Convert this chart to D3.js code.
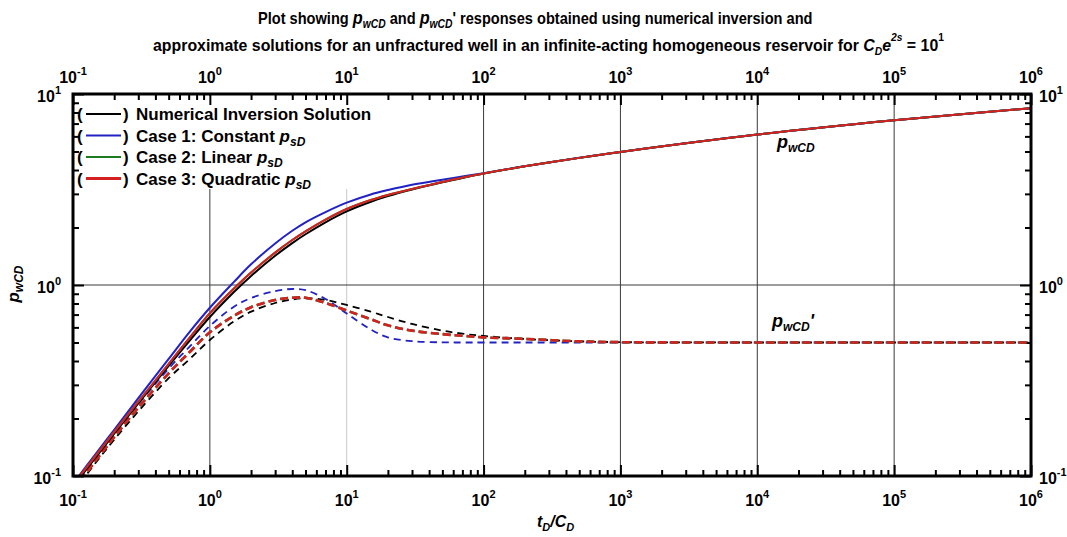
<!DOCTYPE html>
<html><head><meta charset="utf-8">
<script src="https://cdn.jsdelivr.net/npm/d3@7"></script>
<style>body{margin:0;background:#fff}svg{display:block}</style>
</head><body><svg id="c" width="1067" height="537"></svg>
<script>
// ---- data ----
const tD = [0.1,0.15,0.2,0.3,0.5,0.7,1,1.5,2,3,4,5,7,10,15,20,30,50,70,100,200,500,1000,1e4,1e5,1e6];
const numSolid  = [0.088,0.128,0.1665,0.240,0.377,0.504,0.68,0.919,1.116,1.423,1.658,1.844,2.13,2.43,2.73,2.92,3.16,3.45,3.635,3.83,4.18,4.63,4.97,6.13,7.28,8.43];
const c1Solid   = [0.091,0.1335,0.1745,0.256,0.41,0.56,0.76,1.038,1.283,1.65,1.923,2.13,2.41,2.70,2.98,3.14,3.35,3.56,3.70,3.85,4.19,4.635,4.975,6.13,7.28,8.43];
const c2Solid   = [0.0898,0.1306,0.170,0.245,0.386,0.522,0.712,0.958,1.162,1.478,1.72,1.91,2.20,2.50,2.785,2.96,3.18,3.465,3.645,3.835,4.18,4.63,4.97,6.13,7.28,8.43];
const c3Solid   = [0.0898,0.1306,0.170,0.245,0.386,0.522,0.712,0.958,1.162,1.478,1.72,1.91,2.20,2.50,2.785,2.96,3.18,3.465,3.645,3.835,4.18,4.63,4.97,6.13,7.28,8.43];
const numDeriv  = [0.082,0.12,0.155,0.218,0.325,0.405,0.515,0.645,0.725,0.805,0.84,0.852,0.835,0.786,0.725,0.68,0.625,0.577,0.556,0.541,0.522,0.507,0.502,0.5,0.5,0.5];
const c1Deriv   = [0.086,0.127,0.166,0.238,0.365,0.47,0.61,0.77,0.855,0.93,0.953,0.94,0.845,0.71,0.585,0.532,0.508,0.501,0.5,0.5,0.5,0.5,0.5,0.5,0.5,0.5];
const c2Deriv   = [0.084,0.123,0.16,0.228,0.345,0.44,0.565,0.69,0.765,0.835,0.858,0.857,0.805,0.735,0.662,0.615,0.577,0.553,0.542,0.532,0.522,0.507,0.502,0.5,0.5,0.5];
const c3Deriv   = [0.084,0.123,0.16,0.228,0.345,0.44,0.565,0.69,0.765,0.835,0.858,0.857,0.805,0.735,0.662,0.615,0.577,0.553,0.542,0.532,0.522,0.507,0.502,0.5,0.5,0.5];
const xMajor = [1e-1,1e0,1e1,1e2,1e3,1e4,1e5,1e6];
const xExp   = ["-1","0","1","2","3","4","5","6"];
const yMajor = [1e-1,1e0,1e1];
const yExp   = ["-1","0","1"];
const legendLabels = ["Numerical Inversion Solution","Case 1: Constant ","Case 2: Linear ","Case 3: Quadratic "];

// ---- setup ----
const svg = d3.select("#c");
const FONT = "'Liberation Sans', Arial, Helvetica, sans-serif";
const L=73, R=1031, T=94, B=476;
const x = d3.scaleLog().domain([0.1,1e6]).range([L,R]);
const y = d3.scaleLog().domain([0.1,10]).range([B,T]);

const COL = {black:"#000000", blue:"#2222c4", green:"#1e7a1e", red:"#d42222"};

function rich(sel, parts){
  let off = 0;
  parts.forEach(p=>{
    const ts = sel.append("tspan").text(p.t);
    const target = p.dy || 0;
    if (target !== off) ts.attr("dy", target - off);
    off = target;
    if (p.it) ts.attr("font-style","italic");
    if (p.size) ts.attr("font-size", p.size);
  });
}

const minors = [];
for (let e=-1;e<6;e++) for (let m=2;m<=9;m++) minors.push(m*Math.pow(10,e));
const yMinors = [];
for (let e=-1;e<1;e++) for (let m=2;m<=9;m++) yMinors.push(m*Math.pow(10,e));

// gridlines
const grid = svg.append("g");
grid.selectAll("line.v").data([1e0,1e1,1e2,1e3,1e4,1e5]).join("line")
  .attr("x1",d=>x(d)).attr("x2",d=>x(d)).attr("y1",T).attr("y2",B)
  .attr("stroke",d=>d===10?"#c8c8c8":"#3a3a3a").attr("stroke-width",1);
grid.append("line").attr("x1",L).attr("x2",R).attr("y1",y(1)).attr("y2",y(1))
  .attr("stroke","#3a3a3a").attr("stroke-width",1);

// legend background
svg.append("rect").attr("x",L+2).attr("y",T+2).attr("width",305).attr("height",93).attr("fill","#fff");

// axes (inward ticks)
function axisG(axis, tx, ty){
  const g = svg.append("g").attr("transform",`translate(${tx},${ty})`).call(axis);
  g.select(".domain").remove();
  g.selectAll(".tick line").attr("stroke","#000").attr("stroke-width",2);
  g.selectAll(".tick text").remove();
  return g;
}
axisG(d3.axisBottom(x).tickValues(xMajor).tickSize(-11).tickFormat(""),0,B);
axisG(d3.axisBottom(x).tickValues(minors).tickSize(-6).tickFormat(""),0,B);
axisG(d3.axisTop(x).tickValues(xMajor).tickSize(-11).tickFormat(""),0,T);
axisG(d3.axisTop(x).tickValues(minors).tickSize(-6).tickFormat(""),0,T);
axisG(d3.axisLeft(y).tickValues(yMajor).tickSize(-11).tickFormat(""),L,0);
axisG(d3.axisLeft(y).tickValues(yMinors).tickSize(-6).tickFormat(""),L,0);
axisG(d3.axisRight(y).tickValues(yMajor).tickSize(-11).tickFormat(""),R,0);
axisG(d3.axisRight(y).tickValues(yMinors).tickSize(-6).tickFormat(""),R,0);

// curves
svg.append("clipPath").attr("id","pa").append("rect")
  .attr("x",L).attr("y",T).attr("width",R-L).attr("height",B-T);
const line = d3.line().x((d,i)=>x(tD[i])).y(d=>y(d)).curve(d3.curveCatmullRom.alpha(0.5));
const cg = svg.append("g").attr("clip-path","url(#pa)");
const series = [
  {v:numDeriv, c:COL.black, w:1.8, dash:"7,5"},
  {v:c1Deriv,  c:COL.blue,  w:1.8, dash:"7,5"},
  {v:c2Deriv,  c:COL.green, w:2.6, dash:"8,4"},
  {v:c3Deriv,  c:COL.red,   w:2.6, dash:"8,4"},
  {v:numSolid, c:COL.black, w:2},
  {v:c1Solid,  c:COL.blue,  w:2},
  {v:c2Solid,  c:COL.green, w:2},
  {v:c3Solid,  c:COL.red,   w:2},
];
series.forEach(s=>{
  cg.append("path").attr("d",line(s.v)).attr("fill","none")
    .attr("stroke",s.c).attr("stroke-width",s.w)
    .attr("stroke-dasharray",s.dash||null);
});

// frame
svg.append("rect").attr("x",L).attr("y",T).attr("width",R-L).attr("height",B-T)
  .attr("fill","none").attr("stroke","#000").attr("stroke-width",3);

// tick labels
const lab = svg.append("g").attr("font-family",FONT).attr("font-weight","bold").attr("font-size",16).attr("fill","#000");
xMajor.forEach((v,i)=>{
  [83,506].forEach(yy=>{
    const t = lab.append("text").attr("x",x(v)).attr("y",yy).attr("text-anchor","middle");
    rich(t,[{t:"10"},{t:xExp[i],dy:-8,size:11}]);
  });
});
yMajor.forEach((v,i)=>{
  const t1 = lab.append("text").attr("x",61).attr("y",y(v)+8).attr("text-anchor","end");
  rich(t1,[{t:"10"},{t:yExp[i],dy:-8,size:11}]);
  const t2 = lab.append("text").attr("x",1039).attr("y",y(v)+8).attr("text-anchor","start");
  rich(t2,[{t:"10"},{t:yExp[i],dy:-8,size:11}]);
});

// legend
const lg = svg.append("g").attr("font-family",FONT).attr("font-weight","bold").attr("font-size",17);
const legCols = [COL.black, COL.blue, COL.green, COL.red];
const legW = [1.8,1.8,1.8,2.8];
legendLabels.forEach((s,i)=>{
  const cy = 114 + i*21.5;
  lg.append("text").attr("x",77).attr("y",cy+6).text("(");
  lg.append("line").attr("x1",86).attr("x2",121).attr("y1",cy).attr("y2",cy)
    .attr("stroke",legCols[i]).attr("stroke-width",legW[i]);
  lg.append("text").attr("x",123).attr("y",cy+6).text(")");
  const t = lg.append("text").attr("x",136).attr("y",cy+6);
  if (i===0) rich(t,[{t:s}]);
  else rich(t,[{t:s},{t:"p",it:true},{t:"sD",it:true,dy:4,size:12}]);
});

// title (horizontally condensed to the reference widths)
function titleLine(x0, y0, width, parts){
  const g = svg.append("g");
  const t = g.append("text").attr("x",0).attr("y",0)
    .attr("font-family",FONT).attr("font-weight","bold").attr("font-size",17);
  rich(t, parts);
  const w = t.node().getBBox().width;
  g.attr("transform",`translate(${x0},${y0}) scale(${width/w},1)`);
}
titleLine(258, 24, 555, [{t:"Plot showing "},{t:"p",it:true,size:19},{t:"wCD",it:true,dy:4,size:12},{t:" and "},{t:"p",it:true,size:19},{t:"wCD",it:true,dy:4,size:12},{t:"' responses obtained using numerical inversion and"}]);
titleLine(153, 51, 792, [{t:"approximate solutions for an unfractured well in an infinite-acting homogeneous reservoir for "},
  {t:"C",it:true},{t:"D",it:true,dy:4,size:11},{t:"e",it:true},{t:"2s",it:true,dy:-10,size:11},{t:" = 10"},{t:"1",dy:-10,size:11}]);

// axis titles
const ag = svg.append("g").attr("font-family",FONT).attr("font-weight","bold").attr("font-style","italic");
const xt = ag.append("text").attr("x",537).attr("y",527).attr("font-size",16);
rich(xt,[{t:"t"},{t:"D",dy:4,size:11},{t:"/C"},{t:"D",dy:4,size:11}]);
const yt = ag.append("text").attr("transform","translate(19,284) rotate(-90)").attr("text-anchor","middle").attr("font-size",17);
rich(yt,[{t:"p"},{t:"wCD",dy:4,size:12}]);

// curve annotations
const a1 = ag.append("text").attr("x",777).attr("y",148).attr("font-size",18);
rich(a1,[{t:"p"},{t:"wCD",dy:4,size:12}]);
const a2 = ag.append("text").attr("x",772).attr("y",327).attr("font-size",18);
rich(a2,[{t:"p"},{t:"wCD",dy:4,size:12},{t:"'",dy:0}]);
</script></body></html>
